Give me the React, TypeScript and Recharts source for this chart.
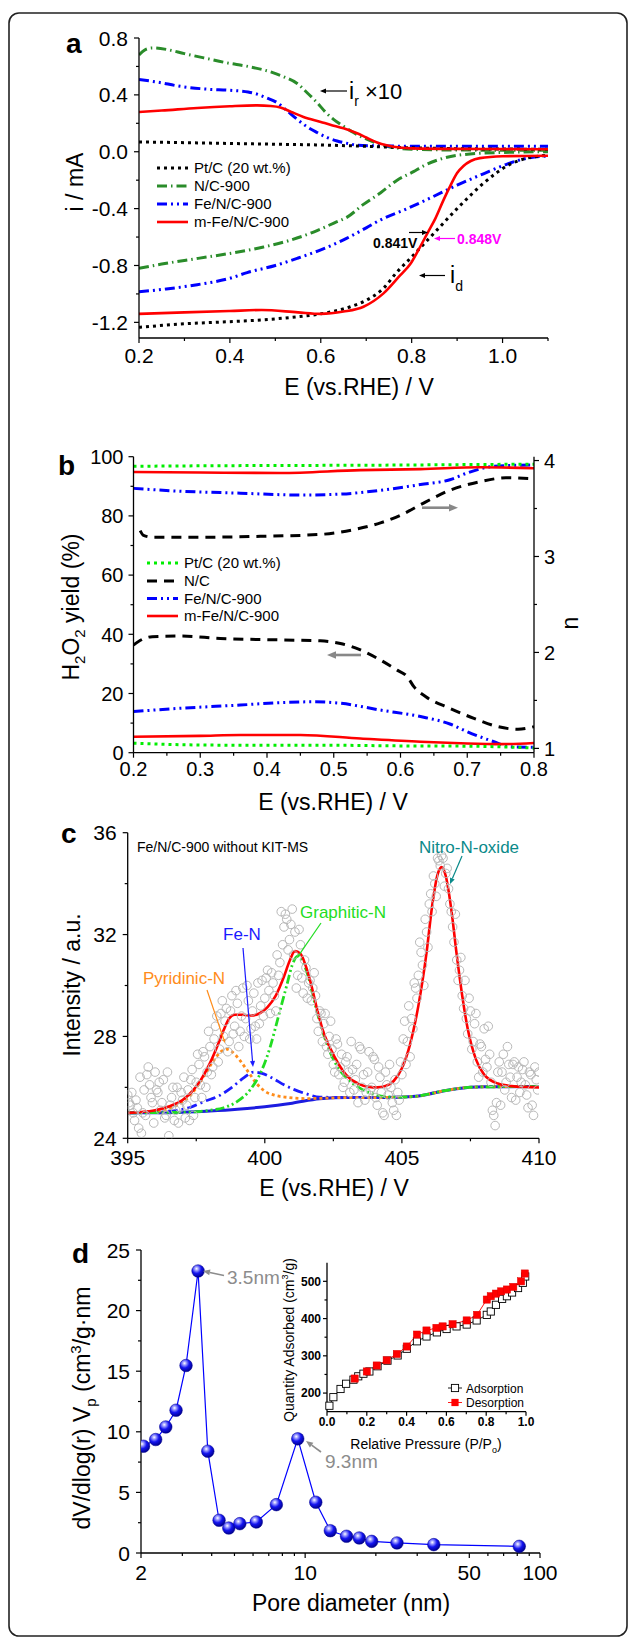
import { ComposedChart, Line, LineChart, Scatter, XAxis, YAxis } from 'recharts'

const FONT = '"Liberation Sans", Arial, Helvetica, sans-serif'
const AX = { stroke: '#000', strokeWidth: 1.3 }

// ---- panel a: RRDE ring (x10) and disk currents ----
const aPtcRing = [[0.2, 0.069], [0.3, 0.064], [0.4, 0.058], [0.5, 0.053], [0.62, 0.046], [0.7, 0.038], [0.77, 0.03], [0.85, 0.024], [0.95, 0.02], [1.1, 0.018]]
const aPtcDisk = [[0.2, -1.235], [0.3, -1.21], [0.4, -1.195], [0.47, -1.183], [0.55, -1.16], [0.6, -1.14], [0.665, -1.09], [0.7, -1.045], [0.738, -0.96], [0.768, -0.845], [0.8, -0.74], [0.85, -0.57], [0.9, -0.4], [0.914, -0.355], [0.955, -0.23], [0.988, -0.145], [1.017, -0.087], [1.046, -0.052], [1.1, -0.025]]
const aNcRing = [[0.2, 0.68], [0.215, 0.72], [0.23, 0.73], [0.26, 0.72], [0.3, 0.69], [0.35, 0.655], [0.394, 0.625], [0.44, 0.6], [0.496, 0.555], [0.52, 0.525], [0.548, 0.48], [0.57, 0.415], [0.592, 0.345], [0.61, 0.28], [0.628, 0.228], [0.65, 0.18], [0.672, 0.135], [0.7, 0.09], [0.724, 0.06], [0.75, 0.035], [0.768, 0.026], [0.8, 0.018], [0.9, 0.012], [1.1, 0.01]]
const aNcDisk = [[0.2, -0.82], [0.25, -0.79], [0.33, -0.75], [0.4, -0.715], [0.474, -0.67], [0.53, -0.625], [0.584, -0.565], [0.63, -0.5], [0.658, -0.46], [0.694, -0.37], [0.731, -0.29], [0.768, -0.2], [0.804, -0.14], [0.826, -0.1], [0.86, -0.055], [0.914, -0.02], [1.0, -0.005], [1.1, 0.0]]
const aFeRing = [[0.2, 0.508], [0.24, 0.49], [0.291, 0.46], [0.35, 0.44], [0.401, 0.432], [0.44, 0.42], [0.46, 0.405], [0.48, 0.38], [0.504, 0.345], [0.525, 0.29], [0.548, 0.228], [0.57, 0.175], [0.592, 0.135], [0.614, 0.1], [0.636, 0.076], [0.66, 0.058], [0.68, 0.046], [0.75, 0.04], [0.9, 0.038], [1.1, 0.038]]
const aFeDisk = [[0.2, -0.985], [0.26, -0.965], [0.328, -0.935], [0.4, -0.89], [0.438, -0.85], [0.5, -0.8], [0.548, -0.75], [0.6, -0.69], [0.65, -0.62], [0.7, -0.535], [0.731, -0.48], [0.79, -0.4], [0.841, -0.325], [0.9, -0.235], [0.958, -0.155], [1.01, -0.087], [1.054, -0.045], [1.1, -0.03]]
const aMRing = [[0.2, 0.28], [0.25, 0.29], [0.328, 0.308], [0.4, 0.32], [0.46, 0.326], [0.49, 0.322], [0.511, 0.312], [0.535, 0.28], [0.562, 0.245], [0.6, 0.21], [0.621, 0.19], [0.65, 0.165], [0.68, 0.13], [0.7, 0.1], [0.724, 0.065], [0.745, 0.045], [0.76, 0.035], [0.8, 0.024], [0.9, 0.02], [1.1, 0.018]]
const aMDisk = [[0.2, -1.14], [0.3, -1.13], [0.4, -1.12], [0.47, -1.113], [0.55, -1.13], [0.6, -1.14], [0.65, -1.124], [0.694, -1.09], [0.738, -0.996], [0.775, -0.868], [0.797, -0.79], [0.815, -0.69], [0.836, -0.565], [0.852, -0.47], [0.87, -0.34], [0.885, -0.24], [0.9, -0.15], [0.914, -0.1], [0.93, -0.065], [0.95, -0.045], [1.0, -0.032], [1.1, -0.028]]
const aXTicks = [0.2, 0.3, 0.4, 0.5, 0.6, 0.7, 0.8, 0.9, 1.0, 1.1]
const aXMajor = [0.2, 0.4, 0.6, 0.8, 1.0]
const aYTicks = [-1.2, -1.0, -0.8, -0.6, -0.4, -0.2, 0, 0.2, 0.4, 0.6, 0.8]
const aYMajor = [-1.2, -0.8, -0.4, 0, 0.4, 0.8]

// ---- panel b: H2O2 yield (left) and electron number n (right) ----
const bPtcH2O2 = [[0.2, 3.2], [0.3, 2.6], [0.4, 2.5], [0.5, 2.5], [0.6, 2.3], [0.7, 2.2], [0.8, 1.6]]
const bPtcN = [[0.2, 3.94], [0.3, 3.945], [0.4, 3.948], [0.5, 3.95], [0.6, 3.953], [0.7, 3.958], [0.8, 3.962]]
const bNcH2O2 = [[0.2, 36.4], [0.215, 38.5], [0.228, 39.2], [0.27, 39.4], [0.33, 38.6], [0.42, 38.1], [0.48, 37.8], [0.51, 36.9], [0.54, 34.7], [0.57, 31.3], [0.595, 27.9], [0.61, 25.7], [0.62, 22.3], [0.638, 18.9], [0.674, 15.0], [0.71, 11.6], [0.746, 8.8], [0.776, 7.9], [0.8, 8.8]]
const bNcN = [[0.21, 3.27], [0.215, 3.22], [0.23, 3.2], [0.3, 3.2], [0.39, 3.21], [0.48, 3.23], [0.53, 3.28], [0.57, 3.35], [0.6, 3.43], [0.638, 3.57], [0.674, 3.69], [0.72, 3.78], [0.758, 3.82], [0.8, 3.81]]
const bFeH2O2 = [[0.2, 13.9], [0.27, 15.0], [0.36, 16.1], [0.42, 16.9], [0.47, 17.2], [0.51, 16.7], [0.57, 14.4], [0.63, 12.2], [0.674, 9.7], [0.7, 7.1], [0.74, 3.7], [0.764, 2.0], [0.8, 1.8]]
const bFeN = [[0.2, 3.71], [0.27, 3.68], [0.36, 3.66], [0.45, 3.64], [0.51, 3.65], [0.57, 3.69], [0.63, 3.75], [0.674, 3.8], [0.7, 3.87], [0.74, 3.94], [0.8, 3.955]]
const bMH2O2 = [[0.2, 5.4], [0.3, 5.7], [0.36, 6.0], [0.45, 6.0], [0.54, 4.8], [0.63, 3.7], [0.69, 3.2], [0.75, 2.9], [0.8, 3.3]]
const bMN = [[0.2, 3.88], [0.3, 3.875], [0.42, 3.87], [0.54, 3.9], [0.63, 3.91], [0.72, 3.93], [0.8, 3.92]]
const bXTicks = [0.2, 0.25, 0.3, 0.35, 0.4, 0.45, 0.5, 0.55, 0.6, 0.65, 0.7, 0.75, 0.8]
const bXMajor = [0.2, 0.3, 0.4, 0.5, 0.6, 0.7, 0.8]
const bYTicks = [0, 10, 20, 30, 40, 50, 60, 70, 80, 90, 100]
const bYMajor = [0, 20, 40, 60, 80, 100]
const bNTicks = [1, 1.5, 2, 2.5, 3, 3.5, 4]
const bNMajor = [1, 2, 3, 4]

// ---- panel c: N 1s spectrum (open circles) and fitted peaks ----
const cRaw = [[395.0, 25.7], [395.1, 25.3], [395.2, 25.0], [395.3, 25.5], [395.4, 24.4], [395.5, 24.2], [395.6, 25.9], [395.7, 26.5], [395.8, 26.1], [395.9, 25.4], [396.0, 26.6], [396.1, 25.8], [396.2, 25.1], [396.3, 26.3], [396.4, 24.9], [396.5, 24.1], [396.6, 25.6], [396.7, 24.7], [396.8, 26.0], [396.9, 25.2], [397.0, 25.5], [397.1, 24.8], [397.2, 25.9], [397.3, 26.3], [397.4, 24.9], [397.5, 26.2], [397.6, 26.9], [397.7, 25.6], [397.8, 27.2], [397.9, 26.6], [398.0, 27.6], [398.1, 26.8], [398.2, 28.4], [398.3, 27.0], [398.4, 28.9], [398.5, 28.0], [398.6, 29.1], [398.7, 27.8], [398.8, 29.6], [398.9, 28.4], [399.0, 29.3], [399.1, 28.2], [399.2, 29.9], [399.3, 28.7], [399.4, 29.4], [399.5, 28.3], [399.6, 29.7], [399.7, 27.9], [399.8, 28.5], [399.9, 30.2], [400.0, 29.5], [400.1, 30.6], [400.2, 28.9], [400.3, 30.1], [400.4, 29.0], [400.5, 30.4], [400.6, 32.9], [400.7, 32.3], [400.8, 32.6], [400.9, 31.8], [401.0, 33.0], [401.1, 32.1], [401.2, 30.4], [401.3, 31.6], [401.4, 29.7], [401.5, 30.7], [401.6, 30.1], [401.7, 29.4], [401.8, 30.5], [401.9, 28.7], [402.0, 29.0], [402.1, 27.8], [402.2, 28.9], [402.3, 27.3], [402.4, 28.6], [402.5, 26.9], [402.6, 27.9], [402.7, 26.5], [402.8, 27.3], [402.9, 26.2], [403.0, 27.2], [403.1, 25.8], [403.2, 26.7], [403.3, 26.3], [403.4, 25.4], [403.5, 27.5], [403.6, 26.5], [403.7, 25.8], [403.8, 27.4], [403.9, 26.0], [404.0, 27.1], [404.1, 25.3], [404.2, 26.4], [404.3, 25.0], [404.4, 26.6], [404.5, 25.7], [404.6, 26.0], [404.7, 25.1], [404.8, 24.9], [404.9, 25.5], [405.0, 26.5], [405.1, 28.6], [405.2, 27.8], [405.3, 27.2], [405.4, 28.3], [405.5, 29.9], [405.6, 30.4], [405.7, 31.3], [405.8, 30.0], [405.9, 32.1], [406.0, 33.2], [406.1, 32.9], [406.2, 34.0], [406.3, 35.0], [406.4, 34.7], [406.5, 35.0], [406.6, 34.4], [406.7, 33.8], [406.8, 32.9], [406.9, 31.7], [407.0, 31.0], [407.1, 30.6], [407.2, 29.6], [407.3, 30.2], [407.4, 28.1], [407.5, 29.0], [407.6, 27.8], [407.7, 28.9], [407.8, 26.4], [407.9, 27.6], [408.0, 28.3], [408.1, 26.8], [408.2, 27.3], [408.3, 25.1], [408.4, 24.5], [408.5, 26.6], [408.6, 25.3], [408.7, 27.3], [408.8, 26.2], [408.9, 26.9], [409.0, 25.6], [409.1, 27.0], [409.2, 26.4], [409.3, 25.8], [409.4, 26.7], [409.5, 26.1], [409.6, 25.2], [409.7, 26.5], [409.8, 24.9], [409.9, 26.3], [410.0, 26.6]]
const cRawHalf = [[395.05, 25.4], [395.15, 25.8], [395.25, 24.7], [395.35, 25.2], [395.45, 26.4], [395.55, 25.0], [395.65, 24.9], [395.75, 26.8], [395.85, 25.6], [395.95, 24.6], [396.05, 25.9], [396.15, 26.2], [396.25, 25.4], [396.35, 24.8], [396.45, 26.6], [396.55, 25.3], [396.65, 26.0], [396.75, 25.1], [396.85, 24.6], [396.95, 25.8], [397.05, 26.4], [397.15, 25.3], [397.25, 24.7], [397.35, 26.7], [397.45, 25.6], [397.55, 27.3], [397.65, 26.1], [397.75, 27.4], [397.85, 26.0], [397.95, 28.2], [398.05, 26.5], [398.15, 27.9], [398.25, 28.8], [398.35, 27.5], [398.45, 29.4], [398.55, 28.6], [398.65, 27.4], [398.75, 29.0], [398.85, 28.1], [398.95, 29.8], [399.05, 27.6], [399.15, 28.8], [399.25, 28.0], [399.35, 30.0], [399.45, 27.9], [399.55, 29.0], [399.65, 28.4], [399.75, 30.1], [399.85, 29.2], [399.95, 28.8], [400.05, 30.3], [400.15, 29.8], [400.25, 30.5], [400.35, 29.6], [400.45, 31.2], [400.55, 30.9], [400.65, 31.6], [400.75, 32.8], [400.85, 31.4], [400.95, 32.4], [401.05, 31.2], [401.15, 29.9], [401.25, 32.2], [401.35, 30.3], [401.45, 31.0], [401.55, 29.5], [401.65, 30.2], [401.75, 29.9], [401.85, 29.6], [401.95, 28.2], [402.05, 28.9], [402.15, 28.5], [402.25, 27.6], [402.35, 28.0], [402.45, 27.5], [402.55, 26.6], [402.65, 27.7], [402.75, 26.8], [402.85, 26.0], [402.95, 27.0], [403.05, 26.6], [403.15, 27.8], [403.25, 25.9], [403.35, 26.9], [403.45, 27.6], [403.55, 26.0], [403.65, 25.5], [403.75, 26.6], [403.85, 25.9], [403.95, 27.2], [404.05, 25.6], [404.15, 26.8], [404.25, 25.8], [404.35, 24.9], [404.45, 26.1], [404.55, 26.9], [404.65, 25.4], [404.75, 26.3], [404.85, 25.8], [404.95, 27.0], [405.05, 27.9], [405.15, 26.9], [405.25, 29.2], [405.35, 28.7], [405.45, 30.1], [405.55, 29.5], [405.65, 31.7], [405.75, 30.8], [405.85, 32.6], [405.95, 31.5], [406.05, 33.6], [406.15, 34.3], [406.25, 33.5], [406.35, 34.9], [406.45, 35.1], [406.55, 33.9], [406.65, 34.6], [406.75, 33.2], [406.85, 32.3], [406.95, 32.8], [407.05, 30.2], [407.15, 31.1], [407.25, 29.1], [407.35, 28.7], [407.45, 29.5], [407.55, 27.5], [407.65, 28.5], [407.75, 27.0], [407.85, 27.7], [407.95, 26.6], [408.05, 27.1], [408.15, 28.4], [408.25, 26.2], [408.35, 24.9], [408.45, 25.4], [408.55, 27.0], [408.65, 26.6], [408.75, 25.9], [408.85, 27.6], [408.95, 26.4], [409.05, 26.9], [409.15, 25.5], [409.25, 26.8], [409.35, 26.2], [409.45, 27.0], [409.55, 25.7], [409.65, 26.6], [409.75, 25.3], [409.85, 26.8], [409.95, 25.9]]
const cFit = [[395, 25.0], [395.5, 25.03], [396, 25.1], [396.5, 25.25], [397, 25.5], [397.4, 25.9], [397.7, 26.35], [398, 26.95], [398.3, 27.7], [398.5, 28.25], [398.7, 28.7], [398.9, 28.85], [399.2, 28.85], [399.5, 28.82], [399.8, 28.9], [400.1, 29.15], [400.4, 29.6], [400.7, 30.35], [400.9, 30.95], [401.1, 31.35], [401.3, 31.25], [401.5, 30.75], [401.7, 30.0], [401.9, 29.1], [402.1, 28.3], [402.4, 27.5], [402.7, 26.9], [403, 26.45], [403.4, 26.15], [403.8, 26.02], [404.1, 26.0], [404.4, 26.05], [404.7, 26.25], [405, 26.75], [405.3, 27.7], [405.6, 29.2], [405.9, 31.3], [406.1, 33.1], [406.3, 34.35], [406.45, 34.65], [406.6, 34.3], [406.8, 33.0], [407, 31.2], [407.2, 29.6], [407.4, 28.3], [407.7, 27.1], [408, 26.5], [408.5, 26.15], [409, 26.05], [410, 26.0]]
const cBase = [[395, 25.0], [396, 25.0], [397, 25.02], [398, 25.07], [399, 25.14], [400, 25.24], [401, 25.38], [402, 25.55], [403, 25.6], [404, 25.6], [405, 25.62], [405.6, 25.66], [406, 25.74], [406.5, 25.86], [407, 25.95], [408, 26.02], [410, 26.03]]
const cPyr = [[395, 25.0], [396, 25.05], [396.8, 25.3], [397.3, 25.7], [397.7, 26.3], [398.1, 27.0], [398.4, 27.4], [398.6, 27.5], [398.8, 27.4], [399.1, 27.05], [399.4, 26.6], [399.7, 26.15], [400.0, 25.85], [400.4, 25.68], [400.9, 25.6], [401.5, 25.56], [402, 25.57], [403, 25.6], [404, 25.6], [405, 25.62], [405.6, 25.66], [406, 25.74], [406.5, 25.86], [407, 25.95], [408, 26.02], [410, 26.03]]
const cFeN = [[395, 25.0], [396, 25.02], [396.8, 25.1], [397.3, 25.22], [397.8, 25.45], [398.3, 25.65], [398.8, 26.0], [399.2, 26.35], [399.6, 26.6], [399.9, 26.55], [400.3, 26.35], [400.7, 26.1], [401.1, 25.9], [401.5, 25.75], [402, 25.62], [403, 25.6], [404, 25.6], [405, 25.62]]
const cGra = [[395, 25.0], [397, 25.02], [398, 25.1], [398.5, 25.2], [399, 25.45], [399.5, 25.95], [399.9, 26.7], [400.2, 27.6], [400.5, 28.8], [400.8, 30.0], [401.0, 30.8], [401.2, 31.15], [401.4, 30.9], [401.6, 30.3], [401.8, 29.4], [402.0, 28.6], [402.3, 27.6], [402.6, 26.9], [403.0, 26.35], [403.5, 25.95], [404, 25.72], [404.5, 25.63], [405, 25.62], [405.6, 25.66], [406, 25.74], [406.5, 25.86], [407, 25.95], [408, 26.02], [410, 26.03]]
const cXTicks = [395, 397.5, 400, 402.5, 405, 407.5, 410]
const cXMajor = [395, 400, 405, 410]
const cYTicks = [24, 26, 28, 30, 32, 34, 36]
const cYMajor = [24, 28, 32, 36]

// ---- panel d: pore size distribution + N2 isotherm inset ----
const poreD = [2.05, 2.31, 2.55, 2.82, 3.11, 3.5, 3.85, 4.3, 4.73, 5.27, 6.19, 7.54, 9.3, 11.1, 12.8, 15.0, 17.0, 19.2, 24.6, 35.3, 81.6]
const poreV = [8.81, 9.36, 10.4, 11.78, 15.47, 23.27, 8.4, 2.7, 2.06, 2.42, 2.56, 3.99, 9.42, 4.19, 1.84, 1.38, 1.24, 0.96, 0.83, 0.69, 0.55]
const dXTicks = [2, 3, 4, 5, 6, 7, 8, 9, 10, 20, 30, 40, 50, 60, 70, 80, 90, 100]
const dXMajor = [2, 10, 50, 100]
const dYTicks = [0, 2.5, 5, 7.5, 10, 12.5, 15, 17.5, 20, 22.5, 25]
const dYMajor = [0, 5, 10, 15, 20, 25]

const adsP = [0.012, 0.032, 0.068, 0.096, 0.133, 0.157, 0.183, 0.213, 0.254, 0.304, 0.355, 0.401, 0.452, 0.5, 0.552, 0.601, 0.651, 0.702, 0.752, 0.803, 0.823, 0.849, 0.88, 0.904, 0.93, 0.96, 0.984, 0.996]
const adsQ = [166, 189, 211, 225, 236, 245, 252, 258, 272, 287, 301, 319, 339, 352, 363, 372, 379, 384, 395, 410, 419, 437, 453, 460, 470, 482, 496, 513]
const desP = [0.139, 0.2, 0.25, 0.3, 0.351, 0.401, 0.452, 0.5, 0.55, 0.581, 0.631, 0.702, 0.754, 0.803, 0.823, 0.849, 0.875, 0.904, 0.936, 0.975, 0.994]
const desQ = [239, 258, 274, 288, 305, 325, 357, 368, 375, 379, 385, 395, 410, 451, 460, 467, 473, 478, 485, 500, 521]
const iXTicks = [0, 0.1, 0.2, 0.3, 0.4, 0.5, 0.6, 0.7, 0.8, 0.9, 1.0]
const iXMajor = [0, 0.2, 0.4, 0.6, 0.8, 1.0]
const iYTicks = [200, 250, 300, 350, 400, 450, 500]
const iYMajor = [200, 300, 400, 500]

const pts = (a: number[][]) => a.map(([x, y]) => ({ x, y }))
const zip = (xs: number[], ys: number[]) => xs.map((x, i) => ({ x, y: ys[i] }))
const f1 = (v: number) => v.toFixed(1)

type TickOpt = {
  side: 'bottom' | 'left' | 'right'
  off: number
  majors: number[]
  fmt?: (v: number) => string
  fs?: number
  bold?: boolean
  big?: number
  small?: number
}

// draws major/minor tick marks itself, label only on majors
const tick = (o: TickOpt) => (p: any) => {
  const v = p.payload.value
  const major = o.majors.includes(v)
  const len = major ? o.big ?? 5 : o.small ?? 3
  const txt = major ? (o.fmt ? o.fmt(v) : String(v)) : null
  const fs = o.fs ?? 21
  const st = { fontSize: fs, fontFamily: FONT, fontWeight: o.bold ? 700 : 400, fill: '#000' }
  if (o.side === 'bottom') {
    const ay = p.y - o.off
    return (
      <g>
        <line x1={p.x} x2={p.x} y1={ay} y2={ay + len} stroke="#000" strokeWidth={1.2} />
        {txt !== null && <text x={p.x} y={p.y + fs * 0.71} textAnchor="middle" {...st}>{txt}</text>}
      </g>
    )
  }
  const sgn = o.side === 'left' ? -1 : 1
  const ax = p.x - sgn * o.off
  return (
    <g>
      <line x1={ax} x2={ax + sgn * len} y1={p.y} y2={p.y} stroke="#000" strokeWidth={1.2} />
      {txt !== null && (
        <text x={p.x} y={p.y + fs * 0.36} textAnchor={o.side === 'left' ? 'end' : 'start'} {...st}>
          {txt}
        </text>
      )}
    </g>
  )
}

// line styles shared by curves and legends
const S = {
  ptc: { stroke: '#000', strokeWidth: 3, strokeDasharray: '3 4' },
  ptcB: { stroke: '#00ee00', strokeWidth: 3, strokeDasharray: '3 4' },
  nc: { stroke: '#2a8c2a', strokeWidth: 3, strokeDasharray: '10 4 1.5 4' },
  ncB: { stroke: '#000', strokeWidth: 3, strokeDasharray: '10 7' },
  fe: { stroke: '#0000ff', strokeWidth: 3, strokeDasharray: '10 4 2 4 2 4' },
  m: { stroke: '#ff0000', strokeWidth: 2.6 },
}

const curve = (d: number[][], st: any, extra: any = {}) => (
  <Line data={pts(d)} dataKey="y" type="monotone" dot={false} isAnimationActive={false} {...st} {...extra} />
)

const frameX = <XAxis xAxisId="top" orientation="top" type="number" domain={[0, 1]} height={0} tick={false} tickLine={false} axisLine={AX} />
const frameY = <YAxis yAxisId="frame" orientation="right" type="number" domain={[0, 1]} width={0} tick={false} tickLine={false} axisLine={AX} />

const Ball = (p: any) => (
  <circle key={`b${p.index}`} cx={p.cx} cy={p.cy} r={6.3} fill="url(#ball)" stroke="#00008a" strokeWidth={0.5} />
)
const OpenSq = (p: any) => (
  <rect key={`o${p.index}`} x={p.cx - 3.6} y={p.cy - 3.6} width={7.2} height={7.2} fill="#fff" stroke="#000" strokeWidth={0.9} />
)
const RedSq = (p: any) => (
  <rect key={`r${p.index}`} x={p.cx - 3.6} y={p.cy - 3.6} width={7.2} height={7.2} fill="#ff0000" stroke="#e00000" strokeWidth={0.5} />
)
const Ring = (p: any) => <circle cx={p.cx} cy={p.cy} r={4.3} fill="none" stroke="#b8b8b8" strokeWidth={1} />

const Arrow = ({ x1, y1, x2, y2, c = '#000', w = 1.2, h = 6 }: any) => {
  const a = Math.atan2(y2 - y1, x2 - x1)
  const bx = x2 - h * Math.cos(a)
  const by = y2 - h * Math.sin(a)
  const px = h * 0.42 * Math.sin(a)
  const py = h * 0.42 * Math.cos(a)
  return (
    <g>
      <line x1={x1} y1={y1} x2={bx} y2={by} stroke={c} strokeWidth={w} />
      <polygon points={`${x2},${y2} ${bx + px},${by - py} ${bx - px},${by + py}`} fill={c} />
    </g>
  )
}

const T = (props: any) => <text fontFamily={FONT} fill="#000" {...props} />

const LegendRow = ({ x, y, st, label }: any) => (
  <g>
    <line x1={x} x2={x + 31} y1={y} y2={y} {...st} />
    <T x={x + 37} y={y + 5.3} fontSize={15}>{label}</T>
  </g>
)

function Overlay() {
  return (
    <svg width={629} height={1640} style={{ position: 'absolute', left: 0, top: 0, pointerEvents: 'none' }}>
      <defs>
        <radialGradient id="ball" cx="38%" cy="32%" r="68%">
          <stop offset="0%" stopColor="#ffffff" />
          <stop offset="22%" stopColor="#9a9aff" />
          <stop offset="55%" stopColor="#1414f0" />
          <stop offset="100%" stopColor="#000090" />
        </radialGradient>
      </defs>
      <rect x={9} y={13} width={618} height={1623} rx={10} fill="none" stroke="#222" strokeWidth={1.6} />

      {/* panel a */}
      <T x={66} y={53} fontSize={28} fontWeight={700}>a</T>
      <T x={359} y={395} fontSize={23} textAnchor="middle">E (vs.RHE) / V</T>
      <T x={83} y={182} fontSize={23} textAnchor="middle" transform="rotate(-90 83 182)">i / mA</T>
      <LegendRow x={157} y={168} st={S.ptc} label="Pt/C (20 wt.%)" />
      <LegendRow x={157} y={186} st={S.nc} label="N/C-900" />
      <LegendRow x={157} y={204} st={S.fe} label="Fe/N/C-900" />
      <LegendRow x={157} y={222} st={S.m} label="m-Fe/N/C-900" />
      <Arrow x1={347} y1={91} x2={320} y2={91} />
      <T x={349} y={99} fontSize={23}>i<tspan fontSize={14} dy={7}>r</tspan></T>
      <T x={365} y={99} fontSize={22}>×10</T>
      <Arrow x1={409} y1={232.5} x2={428} y2={232.5} />
      <T x={373} y={248} fontSize={14} fontWeight={700}>0.841V</T>
      <Arrow x1={455} y1={238.5} x2={434} y2={238.5} c="#ff00ff" />
      <T x={457} y={244} fontSize={14} fontWeight={700} fill="#ff00ff">0.848V</T>
      <Arrow x1={445} y1={275.5} x2={419} y2={275.5} />
      <T x={450} y={283} fontSize={23}>i<tspan fontSize={14} dy={8}>d</tspan></T>

      {/* panel b */}
      <T x={58} y={475} fontSize={28} fontWeight={700}>b</T>
      <T x={333} y={810} fontSize={23} textAnchor="middle">E (vs.RHE) / V</T>
      <T x={79} y={607} fontSize={23} textAnchor="middle" transform="rotate(-90 79 607)">
        H<tspan fontSize={15} dy={6}>2</tspan><tspan dy={-6}>O</tspan><tspan fontSize={15} dy={6}>2</tspan>
        <tspan dy={-6}> yield (%)</tspan>
      </T>
      <T x={578} y={623} fontSize={23} textAnchor="middle" transform="rotate(-90 578 623)">n</T>
      <LegendRow x={147} y={563} st={S.ptcB} label="Pt/C (20 wt.%)" />
      <LegendRow x={147} y={581} st={S.ncB} label="N/C" />
      <LegendRow x={147} y={598.5} st={S.fe} label="Fe/N/C-900" />
      <LegendRow x={147} y={616} st={S.m} label="m-Fe/N/C-900" />
      <Arrow x1={422} y1={507.7} x2={458} y2={507.7} c="#888" w={2.6} h={9} />
      <Arrow x1={361} y1={655} x2={327} y2={655} c="#888" w={2.6} h={9} />

      {/* panel c */}
      <T x={61} y={843} fontSize={28} fontWeight={700}>c</T>
      <T x={334} y={1196} fontSize={23} textAnchor="middle">E (vs.RHE) / V</T>
      <T x={80} y={985} fontSize={23} textAnchor="middle" transform="rotate(-90 80 985)">Intensity / a.u.</T>
      <T x={137} y={852} fontSize={14}>Fe/N/C-900 without KIT-MS</T>
      <T x={469} y={853} fontSize={17} textAnchor="middle" fill="#0a8a8a">Nitro-N-oxide</T>
      <Arrow x1={462} y1={856} x2={450} y2={884} c="#0a8a8a" />
      <T x={343} y={918} fontSize={17} textAnchor="middle" fill="#22dd22">Graphitic-N</T>
      <Arrow x1={321} y1={923} x2={297} y2={958} c="#22dd22" h={4} />
      <T x={242} y={940} fontSize={17} textAnchor="middle" fill="#1a1aff">Fe-N</T>
      <Arrow x1={243} y1={948} x2={253} y2={1067} c="#1a1aff" />
      <T x={184} y={984} fontSize={17} textAnchor="middle" fill="#ff8c1a">Pyridinic-N</T>
      <Arrow x1={207} y1={990} x2={225} y2={1043} c="#ff8c1a" h={4} />

      {/* panel d */}
      <T x={72} y={1263} fontSize={28} fontWeight={700}>d</T>
      <T x={351} y={1611} fontSize={23} textAnchor="middle">Pore diameter (nm)</T>
      <T x={90} y={1408} fontSize={23} textAnchor="middle" transform="rotate(-90 90 1408)">
        dV/dlog(r) V<tspan fontSize={15} dy={6}>p</tspan><tspan dy={-6}> (cm</tspan>
        <tspan fontSize={15} dy={-9}>3</tspan><tspan dy={9}>/g·nm</tspan>
      </T>
      <Arrow x1={224} y1={1275.5} x2={203} y2={1271} c="#8c8c8c" w={1.6} h={7} />
      <T x={227} y={1284} fontSize={19} fill="#8c8c8c">3.5nm</T>
      <Arrow x1={321} y1={1452} x2={306} y2={1441} c="#8c8c8c" w={1.6} h={7} />
      <T x={325} y={1468} fontSize={19} fill="#8c8c8c">9.3nm</T>

      {/* inset */}
      <T x={426} y={1449} fontSize={14} textAnchor="middle">
        Relative Pressure (P/P<tspan fontSize={9} dy={4}>o</tspan><tspan dy={-4}>)</tspan>
      </T>
      <T x={294} y={1340} fontSize={14} textAnchor="middle" transform="rotate(-90 294 1340)">
        Quantity Adsorbed (cm<tspan fontSize={9} dy={-6}>3</tspan><tspan dy={6}>/g)</tspan>
      </T>
      <line x1={448} x2={462} y1={1388} y2={1388} stroke="#000" strokeWidth={0.9} />
      <rect x={451.4} y={1384.4} width={7.2} height={7.2} fill="#fff" stroke="#000" strokeWidth={0.9} />
      <T x={466} y={1392.5} fontSize={12}>Adsorption</T>
      <line x1={448} x2={462} y1={1402.5} y2={1402.5} stroke="#ff0000" strokeWidth={0.9} />
      <rect x={451.4} y={1398.9} width={7.2} height={7.2} fill="#ff0000" />
      <T x={466} y={1407} fontSize={12}>Desorption</T>
    </svg>
  )
}

export default function App() {
  return (
    <div style={{ position: 'absolute', left: 0, top: 0, width: 629, height: 1640, background: '#fff', fontFamily: FONT }}>
      {/* panel a */}
      <div style={{ position: 'absolute', left: 0, top: 0 }}>
        <LineChart width={629} height={420} margin={{ top: 38, right: 81, bottom: 0, left: 0 }}>
          <XAxis dataKey="x" type="number" domain={[0.2, 1.1]} ticks={aXTicks} interval={0} height={82} tickSize={0} tickMargin={10} tickLine={false} axisLine={AX} allowDataOverflow tick={tick({ side: 'bottom', off: 10, majors: aXMajor, fmt: f1 })} />
          {frameX}
          <YAxis type="number" domain={[-1.31, 0.8]} ticks={aYTicks} interval={0} width={139} tickSize={0} tickMargin={11} tickLine={false} axisLine={AX} allowDataOverflow tick={tick({ side: 'left', off: 11, majors: aYMajor, fmt: f1 })} />
          {frameY}
          {curve(aNcRing, S.nc)}
          {curve(aNcDisk, S.nc)}
          {curve(aFeRing, S.fe)}
          {curve(aFeDisk, S.fe)}
          {curve(aPtcRing, S.ptc)}
          {curve(aPtcDisk, S.ptc)}
          {curve(aMRing, S.m)}
          {curve(aMDisk, S.m)}
        </LineChart>
      </div>

      {/* panel b */}
      <div style={{ position: 'absolute', left: 0, top: 420 }}>
        <LineChart width={629} height={420} margin={{ top: 36.7, right: 0, bottom: 0, left: 0 }}>
          <XAxis dataKey="x" type="number" domain={[0.2, 0.8]} ticks={bXTicks} interval={0} height={87.3} tickSize={0} tickMargin={9.5} tickLine={false} axisLine={AX} allowDataOverflow tick={tick({ side: 'bottom', off: 9.5, majors: bXMajor, fmt: f1, fs: 20 })} />
          {frameX}
          <YAxis yAxisId="pct" type="number" domain={[0, 100]} ticks={bYTicks} interval={0} width={133.5} tickSize={0} tickMargin={10} tickLine={false} axisLine={AX} tick={tick({ side: 'left', off: 10, majors: bYMajor, fs: 20 })} />
          <YAxis yAxisId="n" orientation="right" type="number" domain={[0.955, 4.04]} ticks={bNTicks} interval={0} width={95} tickSize={0} tickMargin={10} tickLine={false} axisLine={AX} tick={tick({ side: 'right', off: 10, majors: bNMajor, fs: 20 })} />
          {curve(bNcH2O2, S.ncB, { yAxisId: 'pct' })}
          {curve(bNcN, S.ncB, { yAxisId: 'n' })}
          {curve(bFeH2O2, S.fe, { yAxisId: 'pct' })}
          {curve(bFeN, S.fe, { yAxisId: 'n' })}
          {curve(bMH2O2, S.m, { yAxisId: 'pct' })}
          {curve(bMN, S.m, { yAxisId: 'n' })}
          {curve(bPtcH2O2, S.ptcB, { yAxisId: 'pct' })}
          {curve(bPtcN, S.ptcB, { yAxisId: 'n' })}
        </LineChart>
      </div>

      {/* panel c */}
      <div style={{ position: 'absolute', left: 0, top: 820 }}>
        <ComposedChart width={629} height={400} margin={{ top: 12.7, right: 90, bottom: 0, left: 0 }}>
          <XAxis dataKey="x" type="number" domain={[395, 410]} ticks={cXTicks} interval={0} height={81.7} tickSize={0} tickMargin={12} tickLine={false} axisLine={AX} allowDataOverflow tick={tick({ side: 'bottom', off: 12, majors: cXMajor })} />
          {frameX}
          <YAxis dataKey="y" type="number" domain={[24, 36]} ticks={cYTicks} interval={0} width={127.7} tickSize={0} tickMargin={11} tickLine={false} axisLine={AX} allowDataOverflow tick={tick({ side: 'left', off: 11, majors: cYMajor })} />
          {frameY}
          <Scatter data={pts(cRaw.concat(cRawHalf))} dataKey="y" shape={Ring} isAnimationActive={false} />
          {curve(cBase, { stroke: '#1c1ce0', strokeWidth: 3 })}
          {curve(cFeN, { stroke: '#1c1cff', strokeWidth: 2.8, strokeDasharray: '10 4 2 4' })}
          {curve(cPyr, { stroke: '#ff8c1a', strokeWidth: 2.8, strokeDasharray: '3 3' })}
          {curve(cGra, { stroke: '#22dd22', strokeWidth: 2.8, strokeDasharray: '9 3 2 3 2 3' })}
          {curve(cFit, { stroke: '#ff0000', strokeWidth: 2.6 })}
        </ComposedChart>
      </div>

      {/* panel d */}
      <div style={{ position: 'absolute', left: 0, top: 1220 }}>
        <LineChart width={629} height={420} margin={{ top: 30, right: 89, bottom: 0, left: 0 }}>
          <XAxis dataKey="x" type="number" scale="log" domain={[2, 100]} ticks={dXTicks} interval={0} height={87} tickSize={0} tickMargin={12} tickLine={false} axisLine={AX} allowDataOverflow tick={tick({ side: 'bottom', off: 12, majors: dXMajor })} />
          {frameX}
          <YAxis type="number" domain={[0, 25]} ticks={dYTicks} interval={0} width={141} tickSize={0} tickMargin={11} tickLine={false} axisLine={AX} tick={tick({ side: 'left', off: 11, majors: dYMajor })} />
          {frameY}
          <Line data={zip(poreD, poreV)} dataKey="y" type="linear" stroke="#0000ff" strokeWidth={1.2} dot={Ball} isAnimationActive={false} />
        </LineChart>
      </div>

      {/* inset isotherm */}
      <div style={{ position: 'absolute', left: 0, top: 1240 }}>
        <LineChart width={629} height={200} margin={{ top: 22.7, right: 103, bottom: 0, left: 0 }}>
          <XAxis dataKey="x" type="number" domain={[0, 1]} ticks={iXTicks} interval={0} height={28.3} tickSize={0} tickMargin={6} tickLine={false} axisLine={AX} tick={tick({ side: 'bottom', off: 6, majors: iXMajor, fmt: f1, fs: 12, bold: true, big: 4, small: 2.5 })} />
          {frameX}
          <YAxis type="number" domain={[150, 550]} ticks={iYTicks} interval={0} width={327} tickSize={0} tickMargin={6} tickLine={false} axisLine={AX} tick={tick({ side: 'left', off: 6, majors: iYMajor, fs: 12, bold: true, big: 4, small: 2.5 })} />
          {frameY}
          <Line data={zip(adsP, adsQ)} dataKey="y" type="linear" stroke="#000" strokeWidth={0.9} dot={OpenSq} isAnimationActive={false} />
          <Line data={zip(desP, desQ)} dataKey="y" type="linear" stroke="#ff0000" strokeWidth={0.9} dot={RedSq} isAnimationActive={false} />
        </LineChart>
      </div>

      <Overlay />
    </div>
  )
}
